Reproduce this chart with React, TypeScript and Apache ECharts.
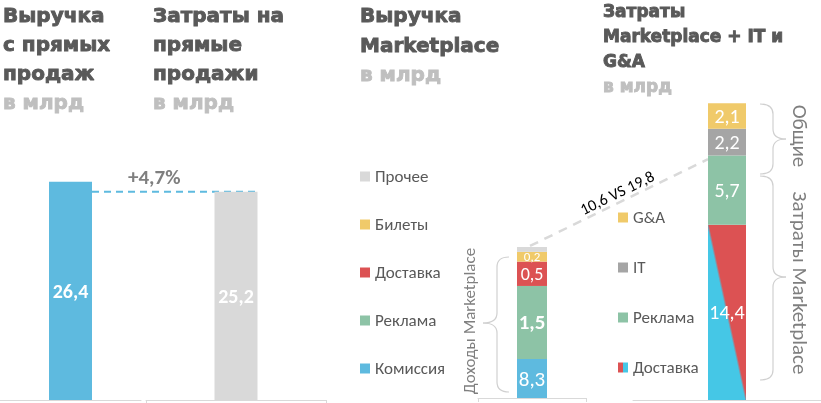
import React, { useEffect, useRef } from 'react';
import * as echarts from 'echarts';

// ---- data ----
const directRevenueName = ['Выручка с прямых продаж'];
const directRevenueValues = [26.4];
const directCostName = ['Затраты на прямые продажи'];
const directCostValues = [25.2];
const growthLabel = '+4,7%';

const mpRevenueCategory = ['Выручка Marketplace'];
const mpRevenueNames = ['Комиссия', 'Реклама', 'Доставка', 'Билеты', 'Прочее'];
const mpRevenueValues = [8.3, 1.5, 0.5, 0.2, 0.1];
const mpRevenueTotal = 10.6;

const mpCostCategory = ['Затраты Marketplace + IT и G&A'];
const mpCostNames = ['Доставка', 'Реклама', 'IT', 'G&A'];
const mpCostValues = [14.4, 5.7, 2.2, 2.1];
const mpCostMarketplace = 19.8;
const compareLabel = '10,6 VS 19,8';

const headerDirectRevenue = ['Выручка', 'с прямых', 'продаж'];
const headerDirectCosts = ['Затраты на', 'прямые', 'продажи'];
const headerMpRevenue = ['Выручка', 'Marketplace'];
const headerMpCosts = ['Затраты', 'Marketplace + IT и', 'G&A'];
const unitLabel = 'в млрд';
const braceLabelRevenue = 'Доходы Marketplace';
const braceLabelGeneral = 'Общие';
const braceLabelMpCosts = 'Затраты Marketplace';

// ---- styles ----
const FONT = 'Carlito, Lato, "Open Sans", sans-serif';
const HEAD_FONT = '"DejaVu Sans", sans-serif';
const C_BLUE = '#5EBADF';
const C_CYAN = '#45C7E6';
const C_GREY = '#D9D9D9';
const C_YELLOW = '#F0CA6A';
const C_RED = '#DC5253';
const C_GREEN = '#8DC3A6';
const C_IT = '#A5A5A5';
const C_TEXT = '#595959';
const C_LIGHT = '#BFBFBF';
const C_BRACE = '#D0D0D0';

const fmt = (v: number) => v.toFixed(1).replace('.', ',');

const revenueColors: Record<string, string> = {
  'Комиссия': C_BLUE, 'Реклама': C_GREEN, 'Доставка': C_RED, 'Билеты': C_YELLOW, 'Прочее': C_GREY,
};
const deliveryGradient = {
  type: 'linear', x: 0, y: 1, x2: 1, y2: 0,
  colorStops: [
    { offset: 0, color: C_CYAN }, { offset: 0.485, color: C_CYAN },
    { offset: 0.515, color: C_RED }, { offset: 1, color: C_RED },
  ],
};
const deliveryIcon = {
  type: 'linear', x: 0, y: 0, x2: 1, y2: 0,
  colorStops: [
    { offset: 0, color: C_RED }, { offset: 0.5, color: C_RED },
    { offset: 0.5, color: C_CYAN }, { offset: 1, color: C_CYAN },
  ],
};
const costColors: Record<string, any> = {
  'Доставка': deliveryGradient, 'Реклама': C_GREEN, 'IT': C_IT, 'G&A': C_YELLOW,
};
const revenueLabelStyle: Record<string, any> = {
  'Комиссия': { fontSize: 21 }, 'Реклама': { fontSize: 21, fontWeight: 'bold' },
  'Доставка': { fontSize: 18 }, 'Билеты': { fontSize: 13 }, 'Прочее': null,
};

function brace(xEnd: number, xVert: number, xTip: number, yTop: number, yTip: number, yBot: number, r: number) {
  const st = { stroke: C_BRACE, lineWidth: 1.2, fill: 'none' };
  const q = (x1: number, y1: number, x2: number, y2: number, cx: number, cy: number) => ({
    type: 'bezierCurve', silent: true, shape: { x1, y1, x2, y2, cpx1: cx, cpy1: cy }, style: st,
  });
  const l = (x1: number, y1: number, x2: number, y2: number) => ({
    type: 'line', silent: true, shape: { x1, y1, x2, y2 }, style: st,
  });
  return [
    q(xEnd, yTop, xVert, yTop + r, xVert, yTop),
    l(xVert, yTop + r, xVert, yTip - r),
    q(xVert, yTip - r, xTip, yTip, xVert, yTip),
    q(xTip, yTip, xVert, yTip + r, xVert, yTip),
    l(xVert, yTip + r, xVert, yBot - r),
    q(xVert, yBot - r, xEnd, yBot, xVert, yBot),
  ];
}

function headerBlock(lines: string[], x: number, y0: number, step: number, size: number) {
  const mk = (t: string, y: number, fill: string) => ({
    type: 'text', x, y, silent: true,
    style: {
      text: t, fontFamily: HEAD_FONT, fontWeight: 'bold', fontSize: size, fill,
      stroke: fill, lineWidth: 0.9, verticalAlign: 'middle',
    },
  });
  const els: any[] = lines.map((t, i) => mk(t, y0 + i * step, C_TEXT));
  els.push(mk(unitLabel, y0 + lines.length * step, C_LIGHT));
  return els;
}

export default function App() {
  const ref = useRef<HTMLDivElement>(null);
  useEffect(() => {
    if (!ref.current) return;
    const chart = echarts.init(ref.current, null, { renderer: 'svg' });
    const axisLine = { show: true, lineStyle: { color: C_GREY, width: 1 } };
    const xBase = (gridIndex: number, data: string[], tick: boolean) => ({
      type: 'category', gridIndex, data, axisLine,
      axisTick: { show: tick, length: 4, lineStyle: { color: C_GREY } },
      axisLabel: { show: false }, splitLine: { show: false },
    });
    const yBase = (gridIndex: number, max: number, extra: any = {}) => ({
      type: 'value', gridIndex, min: 0, max, show: false, splitLine: { show: false }, ...extra,
    });

    const series: any[] = [
      {
        type: 'bar', name: directRevenueName[0], xAxisIndex: 0, yAxisIndex: 0, barWidth: 43,
        data: directRevenueValues, itemStyle: { color: C_BLUE },
        label: { show: true, position: 'inside', color: '#fff', fontFamily: FONT, fontWeight: 'bold', fontSize: 20, formatter: (p: any) => fmt(p.value) },
      },
      {
        type: 'bar', name: directCostName[0], xAxisIndex: 1, yAxisIndex: 1, barWidth: 43,
        data: directCostValues, itemStyle: { color: C_GREY },
        label: { show: true, position: 'inside', color: '#fff', fontFamily: FONT, fontWeight: 'bold', fontSize: 20, formatter: (p: any) => fmt(p.value) },
      },
    ];
    mpRevenueNames.forEach((n, i) => {
      const ls = revenueLabelStyle[n];
      series.push({
        type: 'bar', name: n, stack: 'rev', xAxisIndex: 2, yAxisIndex: 2, barWidth: 30,
        data: [mpRevenueValues[i]], itemStyle: { color: revenueColors[n] },
        label: ls ? { show: true, position: 'inside', color: '#fff', fontFamily: FONT, ...ls, formatter: (p: any) => fmt(p.value) } : { show: false },
      });
    });
    mpCostNames.forEach((n, i) => {
      series.push({
        type: 'bar', name: n, stack: 'cost', xAxisIndex: 3, yAxisIndex: 3, barWidth: 38,
        data: [mpCostValues[i]], itemStyle: { color: costColors[n] },
        label: { show: true, position: 'inside', color: '#fff', fontFamily: FONT, fontSize: 20, formatter: (p: any) => fmt(p.value) },
      });
    });

    const legendText = { fontSize: 17, color: C_TEXT, fontFamily: FONT, lineHeight: 17 };

    chart.setOption({
      animation: false,
      grid: [
        { left: 0, width: 141, top: 152, height: 248 },
        { left: 146, width: 180, top: 152, height: 248 },
        { left: 478, width: 108, top: 227.5, height: 170.5 },
        { left: 633, width: 200, top: 35, height: 365 },
      ],
      xAxis: [
        xBase(0, directRevenueName, false),
        xBase(1, directCostName, true),
        xBase(2, mpRevenueCategory, true),
        xBase(3, mpCostCategory, false),
      ],
      yAxis: [
        yBase(0, 30),
        yBase(1, 30),
        yBase(2, 11, { breaks: [{ start: 0.4, end: 7.9, gap: 0 }], breakArea: { show: false } }),
        yBase(3, 30),
      ],
      legend: [
        {
          data: ['Прочее', 'Билеты', 'Доставка', 'Реклама', 'Комиссия'],
          orient: 'vertical', left: 360, top: 168, padding: 0, itemGap: 31,
          itemWidth: 10, itemHeight: 10, icon: 'rect', selectedMode: false, textStyle: legendText,
        },
        {
          data: ['G&A', 'IT', 'Реклама', { name: 'Доставка', itemStyle: { color: deliveryIcon } }],
          orient: 'vertical', left: 618, top: 209, padding: 0, itemGap: 33,
          itemWidth: 10, itemHeight: 10, icon: 'rect', selectedMode: false, textStyle: legendText,
        },
      ],
      series,
    });

    // decorations anchored to data positions
    const a = chart.convertToPixel({ xAxisIndex: 0, yAxisIndex: 0 } as any, [0, directCostValues[0]]) as number[];
    const b = chart.convertToPixel({ xAxisIndex: 1, yAxisIndex: 1 } as any, [0, directCostValues[0]]) as number[];
    const c = chart.convertToPixel({ xAxisIndex: 2, yAxisIndex: 2 } as any, [0, mpRevenueTotal]) as number[];
    const d = chart.convertToPixel({ xAxisIndex: 3, yAxisIndex: 3 } as any, [0, mpCostMarketplace]) as number[];
    const x1 = a[0] + 21.5, x2 = b[0] + 21.5;
    const cx0 = c[0] - 2, cy0 = c[1] - 1;
    const dx1 = d[0] - 19, dy1 = d[1];
    const ang = Math.atan2(cy0 - dy1, dx1 - cx0);
    const mx = (cx0 + dx1) / 2, my = (cy0 + dy1) / 2;
    const off = 11;
    const tx = mx - off * Math.sin(ang) + 3, ty = my - off * Math.cos(ang);

    const graphic: any[] = [
      ...headerBlock(headerDirectRevenue, 3, 15, 29, 20),
      ...headerBlock(headerDirectCosts, 153, 15, 29, 20),
      ...headerBlock(headerMpRevenue, 360, 15, 29.5, 20),
      ...headerBlock(headerMpCosts, 603, 11, 25, 17),
      {
        type: 'line', silent: true, shape: { x1, y1: a[1], x2, y2: b[1] },
        style: { stroke: C_BLUE, lineWidth: 2, lineDash: [7, 5] },
      },
      {
        type: 'text', silent: true, x: (x1 + b[0] - 21.5) / 2 + 1, y: a[1] - 15,
        style: { text: growthLabel, fontFamily: FONT, fontWeight: 'bold', fontSize: 21, fill: '#7F7F7F', align: 'center', verticalAlign: 'middle' },
      },
      {
        type: 'line', silent: true, shape: { x1: cx0, y1: cy0, x2: dx1, y2: dy1 },
        style: { stroke: C_GREY, lineWidth: 2.5, lineDash: [9, 7] },
      },
      {
        type: 'text', silent: true, x: tx, y: ty, rotation: ang,
        style: { text: compareLabel, fontFamily: FONT, fontSize: 16, fill: '#000', align: 'center', verticalAlign: 'middle' },
      },
      ...brace(509, 497, 483, 257, 323, 392, 10),
      {
        type: 'text', silent: true, x: 469, y: 321, rotation: Math.PI / 2,
        style: { text: braceLabelRevenue, fontFamily: FONT, fontSize: 17, fill: '#7F7F7F', align: 'center', verticalAlign: 'middle' },
      },
      ...brace(760, 773, 786, 104, 139, 174, 10),
      ...brace(760, 773, 786, 176, 277, 380, 10),
      {
        type: 'text', silent: true, x: 800, y: 136, rotation: -Math.PI / 2,
        style: { text: braceLabelGeneral, fontFamily: FONT, fontSize: 21, fill: '#7F7F7F', align: 'center', verticalAlign: 'middle' },
      },
      {
        type: 'text', silent: true, x: 800, y: 283, rotation: -Math.PI / 2,
        style: { text: braceLabelMpCosts, fontFamily: FONT, fontSize: 21, fill: '#7F7F7F', align: 'center', verticalAlign: 'middle' },
      },
    ];
    chart.setOption({ graphic });

    return () => chart.dispose();
  }, []);
  return <div ref={ref} style={{ position: 'fixed', left: 0, top: 0, width: 821, height: 403 }} />;
}
